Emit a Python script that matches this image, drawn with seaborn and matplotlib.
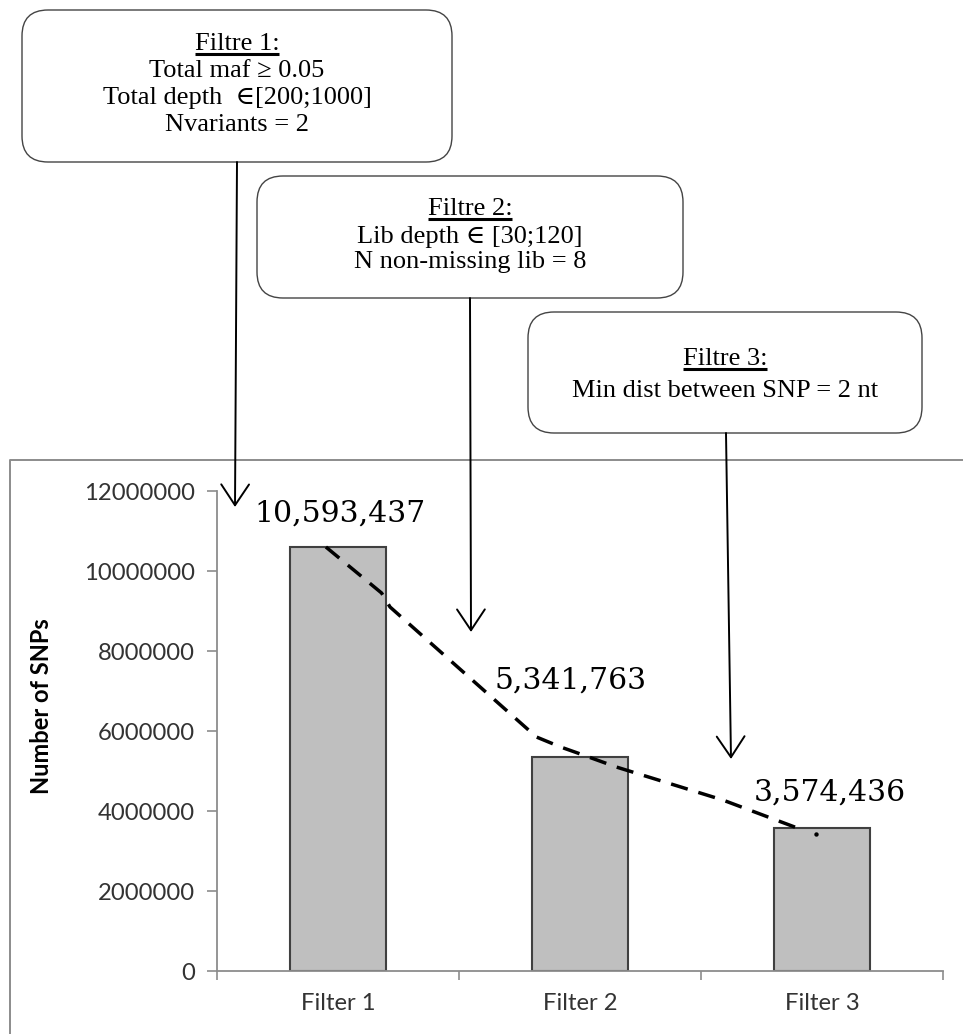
import matplotlib
matplotlib.use("Agg")
import matplotlib.pyplot as plt
import seaborn as sns
import pandas as pd
from matplotlib.patches import FancyBboxPatch

# ---- data -------------------------------------------------------------
filters = ["Filter 1", "Filter 2", "Filter 3"]
snp_counts = [10593437, 5341763, 3574436]
y_ticks = [0, 2000000, 4000000, 6000000, 8000000, 10000000, 12000000]

# hand-drawn dashed decline sketched across the bar tops
trend_x = [-0.05, 0.18, 0.215, 0.82, 0.92, 0.99, 1.15, 1.59, 1.92]
trend_y = [10600000, 9450000, 9100000, 5850000, 5600000, 5450000, 5100000,
           4275000, 3525000]
trend_end_x = [1.975]
trend_end_y = [3425000]

box_lines = [
    ["Filtre 1:", "Total maf \u2265 0.05", "Total depth  \u2208[200;1000]", "Nvariants = 2"],
    ["Filtre 2:", "Lib depth \u2208 [30;120]", "N non-missing lib = 8"],
    ["Filtre 3:", "Min dist between SNP = 2 nt"],
]

# ---- layout (pixels on a 963 x 1034 canvas) --------------------------
W, H = 963, 1034
AX_L, AX_R, AX_T, AX_B = 217, 943, 491, 971

# label placement relative to each bar (x in category units, y in SNPs)
label_dx = [0.01, -0.04, 0.033]
label_dy = [630000, 1710000, 675000]

# rounded boxes: (left, top, right, bottom), text baselines, arrow start/tip
boxes = [
    dict(rect=(22, 10, 452, 162), baselines=[50, 77, 104, 131],
         arrow=((237, 162), (235, 507))),
    dict(rect=(257, 176, 683, 298), baselines=[215, 243, 268],
         arrow=((470, 298), (471, 632))),
    dict(rect=(528, 312, 922, 433), baselines=[365, 397],
         arrow=((726, 433), (731, 759))),
]

sns.set_style("ticks")
plt.rcParams["font.family"] = ["Lato", "DejaVu Sans"]

fig = plt.figure(figsize=(W / 100, H / 100), dpi=100)
ax = fig.add_axes([AX_L / W, (H - AX_B) / H, (AX_R - AX_L) / W, (AX_B - AX_T) / H])

df = pd.DataFrame({"filter": filters, "snps": snp_counts})
sns.barplot(data=df, x="filter", y="snps", ax=ax, color="#bfbfbf",
            saturation=1, edgecolor="#404040", linewidth=1.5, width=0.4)

sns.lineplot(x=trend_x, y=trend_y, ax=ax, sort=False, estimator=None,
             color="black", linewidth=2.5, linestyle=(0, (5, 3.2)))
sns.scatterplot(x=trend_end_x, y=trend_end_y, ax=ax, color="black", s=10,
                linewidth=0)

for i, v in enumerate(snp_counts):
    ax.text(i + label_dx[i], v + label_dy[i], f"{v:,}", ha="center",
            va="baseline", fontsize=21.5, family=["DejaVu Serif"], color="black")

ax.set_xlim(-0.5, 2.5)
ax.set_ylim(0, 12000000)
ax.set_yticks(y_ticks)
ax.set_yticklabels([str(t) for t in y_ticks])
ax.set_xticks([-0.5, 0.5, 1.5, 2.5])
ax.set_xticklabels([])
ax.set_xticks([0, 1, 2], minor=True)
ax.set_xticklabels(filters, minor=True)
ax.set_xlabel("")
ax.set_ylabel("Number of SNPs", fontsize=17, fontweight="bold", color="black")
ax.yaxis.set_label_coords((53 - AX_L) / (AX_R - AX_L), (AX_B - 706) / (AX_B - AX_T))

axis_grey = "#8c8c8c"
for side in ("top", "right"):
    ax.spines[side].set_visible(False)
for side in ("left", "bottom"):
    ax.spines[side].set_color(axis_grey)
    ax.spines[side].set_linewidth(1.3)
ax.tick_params(axis="y", which="major", length=7, width=1.2, color=axis_grey,
               labelsize=17.2, labelcolor="#333333", pad=9)
ax.tick_params(axis="x", which="major", length=6.5, width=1.2, color=axis_grey)
ax.tick_params(axis="x", which="minor", length=0, labelsize=17.2,
               labelcolor="#333333", pad=16)
ax.set_facecolor("none")

# ---- overlay in pixel coordinates for the frame, notes and arrows -----
ov = fig.add_axes([0, 0, 1, 1], zorder=5)
ov.set_xlim(0, W)
ov.set_ylim(H, 0)
ov.axis("off")
ov.patch.set_alpha(0)

ov.plot([10, 10, W], [H, 460, 460], color=axis_grey, lw=1.4, solid_capstyle="butt")

serif = ["Liberation Serif", "DejaVu Serif"]
title_texts = []
for spec, lines in zip(boxes, box_lines):
    x0, y0, x1, y1 = spec["rect"]
    ov.add_patch(FancyBboxPatch((x0, y0), x1 - x0, y1 - y0,
                                boxstyle="round,pad=0,rounding_size=26",
                                facecolor="white", edgecolor="#444444", lw=1.0))
    cx = (x0 + x1) / 2
    for j, (line, base) in enumerate(zip(lines, spec["baselines"])):
        t = ov.text(cx, base, line, ha="center", va="baseline",
                    fontsize=19, family=serif, color="black")
        if j == 0:
            title_texts.append((t, base))
    (sx, sy), (tx, ty) = spec["arrow"]
    ov.annotate("", xy=(tx, ty), xytext=(sx, sy),
                arrowprops=dict(arrowstyle="->,head_length=0.6,head_width=0.4",
                                mutation_scale=25, lw=1.4, color="black",
                                shrinkA=0, shrinkB=0))

# underline each "Filtre n:" heading
fig.canvas.draw()
renderer = fig.canvas.get_renderer()
inv = ov.transData.inverted()
for t, base in title_texts:
    bb = t.get_window_extent(renderer)
    (xa, _), (xb, _) = inv.transform([(bb.x0, bb.y0), (bb.x1, bb.y1)])
    ov.plot([xa, xb], [base + 3.5, base + 3.5], color="black", lw=2.2,
            solid_capstyle="butt")

fig.savefig("out.png", dpi=100, facecolor="white")
